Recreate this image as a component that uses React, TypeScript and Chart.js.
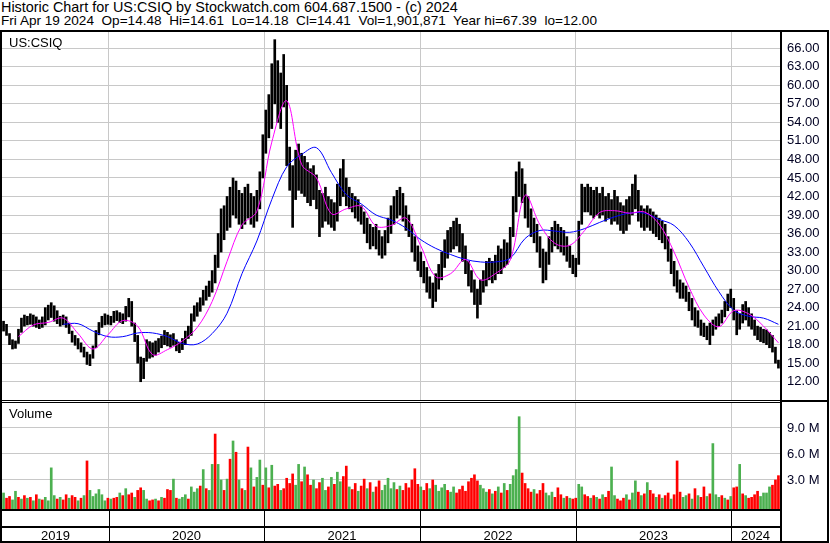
import React, { useEffect, useRef } from 'react';
import { Chart, registerables } from 'chart.js';
Chart.register(...registerables);

const titleLine1 = 'Historic Chart for US:CSIQ by Stockwatch.com 604.687.1500 - (c) 2024';
const titleLine2 = 'Fri Apr 19 2024  Op=14.48  Hi=14.61  Lo=14.18  Cl=14.41  Vol=1,901,871  Year hi=67.39  lo=12.00';
const symbolLabel = 'US:CSIQ';
const volumeLabel = 'Volume';

const yearLabels = ['2019', '2020', '2021', '2022', '2023', '2024'];
const yearStarts = [2020, 2021, 2022, 2023, 2024];
const priceTicks = [12, 15, 18, 21, 24, 27, 30, 33, 36, 39, 42, 45, 48, 51, 54, 57, 60, 63, 66];
const volumeTicks = [3, 6, 9];

// weekly bars, first one in late April 2019, last one on Apr 19 2024
const weeklyHigh = [
  21.8, 21.3, 19.8, 18.8, 18.6, 20.5, 22.3, 22.8, 22.6, 23.0,
  22.8, 22.5, 22.0, 22.5, 24.0, 24.4, 24.8, 24.3, 23.5, 22.6,
  22.8, 22.5, 21.5, 20.2, 19.5, 19.0, 18.3, 17.6, 16.8, 16.4,
  17.8, 20.3, 21.6, 22.6, 23.0, 22.8, 22.6, 23.4, 23.5, 23.2,
  23.0, 24.2, 25.5, 25.0, 21.5, 19.5, 16.0, 15.8, 18.8, 18.5,
  18.3, 18.6, 19.0, 19.4, 20.3, 20.0, 19.6, 19.8, 18.8, 18.4,
  19.0, 20.2, 21.0, 23.0, 24.3, 24.8, 25.6, 26.8, 27.5, 28.3,
  30.0, 32.5, 36.0, 40.0, 40.5, 42.0, 43.5, 45.0, 44.5, 43.0,
  42.5, 43.5, 44.0, 42.5, 42.0, 43.0, 46.0, 52.0, 56.0, 58.5,
  63.5, 67.4, 64.0, 62.0, 65.0, 60.0, 50.0, 47.0, 49.5, 50.5,
  49.0, 48.5, 47.5, 46.5, 47.0, 45.5, 43.0, 42.5, 43.5, 42.0,
  41.5, 41.0, 44.0, 46.5, 48.0, 45.0, 43.5, 42.5, 42.0, 41.5,
  40.5, 39.5, 38.5, 37.5, 37.0, 37.5, 36.5, 35.5, 36.5, 38.5,
  40.5, 42.0, 43.0, 43.5, 42.5, 40.5, 39.0, 37.5, 35.5, 34.0,
  33.0, 31.5, 30.5, 29.0, 28.0, 29.5, 31.0, 33.0, 35.0, 36.5,
  37.0, 38.0, 38.5, 37.5, 36.0, 34.0, 31.5, 30.0, 28.5, 27.0,
  28.5, 30.0, 31.5, 32.0, 31.5, 32.5, 34.0, 33.5, 35.0, 34.5,
  37.0, 42.0, 46.0, 47.6, 46.5, 44.0, 42.0, 40.0, 38.5, 37.5,
  35.5, 33.5, 33.0, 35.5, 37.0, 38.0, 37.5, 37.0, 36.5, 35.5,
  34.0, 32.5, 32.0, 38.0, 44.0, 43.5, 44.0, 43.5, 43.0, 43.5,
  42.5, 43.5, 42.0, 42.5, 41.5, 43.0, 42.0, 41.0, 40.5, 41.5,
  42.0, 44.0, 45.5, 43.0, 40.5, 40.0, 40.5, 40.0, 39.5, 39.0,
  38.5, 38.0, 37.5, 35.5, 33.5, 31.5, 30.0, 28.5, 28.0, 27.5,
  26.5, 25.5, 24.0, 23.5, 22.0, 21.5, 21.0, 21.5, 22.0, 22.5,
  23.0, 23.6, 25.0, 26.2, 27.0, 25.5, 23.5, 23.0, 24.5, 25.0,
  24.0, 23.0, 22.0, 21.0, 20.8, 20.5, 20.4, 20.0, 19.5, 17.6, 15.5,
];
const weeklyLow = [
  20.2, 19.5, 18.0, 17.3, 17.4, 18.2, 20.0, 21.0, 21.2, 21.3,
  21.0, 20.8, 20.6, 20.8, 21.2, 22.0, 22.4, 21.8, 21.4, 21.0,
  21.2, 20.8, 19.8, 18.4, 17.9, 17.3, 16.8, 16.0, 14.8, 14.6,
  15.8, 17.5, 19.6, 20.8, 21.2, 21.3, 21.2, 21.6, 21.9, 21.6,
  21.4, 21.8, 22.5, 21.0, 18.5, 15.0, 12.0, 12.5, 15.3, 15.8,
  16.0, 16.3, 16.8, 17.5, 18.0, 17.8, 17.6, 17.9, 17.0, 16.7,
  17.2, 18.0, 19.0, 19.5, 21.8, 22.6, 23.4, 24.4, 25.2, 25.8,
  26.5, 28.0, 30.5, 33.0, 35.0, 36.5, 37.0, 39.0, 38.5, 37.5,
  36.8, 37.5, 38.5, 37.5, 37.0, 38.0, 40.0, 45.0, 49.0, 51.5,
  53.0, 57.0, 54.0, 53.0, 56.5, 47.0, 43.0, 37.0, 41.5, 43.0,
  42.5, 42.0, 41.0, 40.5, 41.5, 40.0, 35.5, 37.0, 38.0, 37.5,
  37.0, 36.5, 38.0, 40.5, 42.0, 40.5, 40.0, 39.5, 38.5, 38.0,
  37.5, 36.0, 34.5, 33.5, 34.0, 33.5, 32.5, 32.0, 32.5, 34.5,
  36.0, 37.5, 38.5, 39.0, 38.0, 36.5, 35.5, 33.0, 31.5, 30.0,
  29.0, 28.0, 26.5, 25.5, 24.0, 25.0, 27.0, 28.5, 30.5, 32.0,
  33.0, 33.5, 34.0, 33.0, 31.5, 29.5, 27.5, 26.5, 24.5, 22.3,
  24.5, 26.5, 27.5, 28.5, 28.0, 28.5, 29.5, 29.5, 30.5, 31.0,
  32.0, 35.5, 39.5, 42.0, 41.0, 38.5, 37.0, 35.5, 34.5, 33.0,
  30.5, 28.0, 28.5, 31.0, 33.0, 34.0, 33.5, 33.0, 32.5, 31.5,
  30.5, 29.5, 29.0, 31.0, 37.5, 39.5, 39.5, 39.0, 38.5, 39.0,
  38.5, 39.0, 38.0, 38.5, 37.5, 38.0, 37.5, 36.5, 36.0, 36.5,
  37.5, 39.0, 40.0, 38.0, 37.0, 36.5, 37.0, 36.5, 36.0, 35.5,
  35.0, 34.5, 33.5, 31.5, 29.5, 27.5, 26.5, 25.5, 25.5, 25.0,
  23.5, 22.0, 21.0, 20.8, 19.5, 19.3, 18.8, 18.0, 19.5, 20.5,
  21.0, 21.5, 22.5, 23.5, 24.0, 22.0, 19.6, 20.5, 21.5, 22.0,
  21.0, 20.5, 19.5, 18.8, 18.5, 18.3, 18.0, 17.5, 16.8, 15.0, 14.2,
];

// moving averages sampled every 5 weeks (weeks 5, 10, ..., 260)
const maShort = [
  19.3, 21.2, 21.6, 22.3, 19.8, 17.3, 19.6, 21.9, 21.0, 16.4,
  17.2, 18.6, 20.8, 25.0, 31.5, 37.4, 39.6, 50.8, 57.5, 47.2,
  45.0, 39.2, 40.0, 40.4, 37.2, 37.3, 38.5, 34.0, 29.0, 29.5,
  31.8, 28.5, 29.5, 31.7, 42.2, 37.4, 34.4, 34.1, 36.5, 39.4,
  39.7, 39.3, 39.5, 37.5, 33.0, 27.3, 22.8, 20.9, 23.5, 23.0,
  21.0, 18.3,
];
const maLong = [
  null, null, null, 21.3, 21.4, 20.2, 19.3, 19.3, 19.9, 19.9,
  19.3, 18.2, 18.1, 19.8, 23.1, 29.5, 34.8, 41.5, 46.8, 48.8,
  49.9, 45.9, 42.3, 40.8, 39.0, 38.2, 36.9, 35.0, 33.6, 32.6,
  31.8, 31.4, 31.4, 32.0, 35.2, 36.5, 36.4, 36.2, 36.8, 37.8,
  38.7, 39.3, 39.3, 38.3, 37.3, 34.6, 30.6, 26.6, 23.6, 22.6,
  22.3, 21.3,
];

// weekly volume, millions of shares
const weeklyVolume = [
  1.5, 0.9, 1.1, 0.7, 1.7, 1.0, 0.8, 1.2, 0.9, 1.0,
  0.6, 1.3, 0.8, 0.7, 1.0, 0.6, 4.4, 1.2, 0.8, 1.0,
  0.7, 1.3, 0.9, 1.2, 1.0, 0.6, 0.9, 1.2, 5.2, 1.8,
  1.1, 1.4, 1.9, 1.3, 0.6, 0.9, 0.8, 0.9, 1.0, 1.5,
  1.2, 2.0, 1.3, 1.5, 1.0, 1.8, 2.1, 1.8, 0.8, 0.6,
  0.7, 0.8, 0.6, 1.0, 0.9, 1.9, 1.8, 3.1, 0.9, 0.8,
  1.0, 1.3, 0.8, 2.2, 1.6, 2.0, 2.3, 4.2, 2.0, 1.8,
  4.8, 8.3, 4.8, 3.0, 1.8, 3.1, 5.4, 7.5, 6.2, 3.0,
  2.0, 1.8, 6.8, 4.4, 2.2, 3.3, 5.3, 2.4, 4.4, 2.1,
  4.7, 2.3, 2.5, 1.8, 2.0, 3.2, 2.6, 3.7, 2.4, 4.8,
  2.8, 4.5, 3.6, 2.4, 3.0, 2.0, 2.7, 3.2, 1.8, 2.2,
  3.3, 2.5, 3.9, 2.8, 3.4, 4.6, 2.2, 1.9, 2.6, 1.7,
  2.3, 3.1, 2.0, 2.7, 1.6, 2.2, 2.9, 1.8, 2.4, 3.2,
  2.0, 2.7, 1.9, 2.3, 1.8, 2.6, 2.1, 3.0, 4.3, 2.5,
  2.2, 1.8, 2.6, 2.0, 3.0, 2.4, 1.7, 2.1, 2.5, 1.8,
  1.6, 2.2, 1.5, 1.9, 2.3, 1.7, 2.8, 3.2, 3.6, 2.9,
  2.4, 2.0, 1.6, 1.9, 1.4, 1.7, 2.2, 1.5, 2.6, 1.8,
  2.5, 3.5, 4.2, 10.3, 3.8, 2.6, 2.0, 1.6, 1.9, 1.4,
  1.8, 2.6, 1.5, 1.2, 1.6, 1.0, 2.1, 1.3, 0.9, 1.1,
  0.9, 0.8, 0.9, 2.5, 2.2, 1.3, 1.1, 0.9, 1.2, 1.0,
  0.8, 1.3, 1.0, 1.7, 4.5, 1.2, 0.8, 0.6, 0.9, 1.3,
  0.7, 1.5, 2.9, 1.6, 1.2, 1.4, 2.7, 1.8, 1.4, 1.0,
  1.3, 0.9, 1.2, 1.5, 0.8, 1.3, 5.2, 1.6, 1.0, 1.2,
  1.4, 0.8, 2.0, 1.2, 1.0, 2.2, 1.1, 1.4, 7.2, 1.3,
  1.0, 1.2, 0.9, 0.7, 1.1, 2.1, 2.2, 4.8, 1.4, 1.2,
  0.9, 1.0, 1.3, 1.7, 1.1, 1.5, 1.5, 2.2, 2.4, 3.0, 3.5,
];
// g = up week (green), r = down week (red)
const weeklyDirection = (
  'grrggrgrgr' + 'grgrggggrg' + 'rrgrrgrgrg' + 'gggggrgrrg' + 'rgrrgrrggr' +
  'rgrgrrrgrg' + 'ggrgggrgrg' + 'grggrgrgrg' + 'rgrgrggrgr' + 'grrgrrrrgg' +
  'rgrrgrrggr' + 'grggrrgrrg' + 'rrgrgrrggg' + 'ggrgrrrrrr' + 'grrgrggggr' +
  'ggrrrrrrrr' + 'gggrgrgrgr' + 'ggggrrrrgr' + 'rrgggrrrgr' + 'grrggrrgrg' +
  'rgrrggrrrg' + 'rggrgrgrrg' + 'rgrrgrrrgg' + 'rgrgrrgrgg' + 'grgrgrrgrg' +
  'rrrrggggrrr'
).split('');

const FIRST_WEEK = 2019.322;
const WEEK_YEARS = 7 / 365.25;
const X_MIN = 2019.312;
const X_MAX = 2024.315;
const P_MIN = 9.04;
const P_MAX = 68.64;
const V_MIN = -0.346;
const V_MAX = 11.88;
const FONT = '"Liberation Sans", Arial, sans-serif';
const GRID = '#c8c8c8';
const GREEN = '#4cb050';
const RED = '#ff0000';

const weekX = (i: number) => FIRST_WEEK + i * WEEK_YEARS;

const xScale = () => ({
  type: 'linear' as const,
  min: X_MIN,
  max: X_MAX,
  offset: false,
  afterBuildTicks: (s: any) => { s.ticks = yearStarts.map((v) => ({ value: v })); },
  afterFit: (s: any) => { s.height = 0; s.paddingLeft = 0; s.paddingRight = 0; },
  ticks: { display: false },
  grid: { color: GRID, drawTicks: false, offset: false },
  border: { display: false },
});

export default function App() {
  const priceRef = useRef<HTMLCanvasElement>(null);
  const volRef = useRef<HTMLCanvasElement>(null);

  useEffect(() => {
    Chart.defaults.font.family = FONT;
    const priceChart = new Chart(priceRef.current!, {
      type: 'bar',
      data: {
        datasets: [
          {
            type: 'line',
            data: maShort.map((v, k) => ({ x: weekX(5 + 5 * k), y: v })),
            borderColor: '#ff00ff',
            borderWidth: 1,
            pointRadius: 0,
            tension: 0.35,
            order: 1,
          } as any,
          {
            type: 'line',
            data: maLong.map((v, k) => ({ x: weekX(5 + 5 * k), y: v })),
            borderColor: '#0000ff',
            borderWidth: 1,
            pointRadius: 0,
            tension: 0.35,
            order: 1,
          } as any,
          {
            type: 'bar',
            data: weeklyHigh.map((h, i) => ({ x: weekX(i), y: [weeklyLow[i], h] })),
            backgroundColor: '#000000',
            barThickness: 2,
            order: 2,
          } as any,
        ],
      },
      options: {
        responsive: false,
        maintainAspectRatio: false,
        animation: false,
        events: [],
        layout: { padding: { left: 2, right: 0, top: 3, bottom: 3 } },
        plugins: { legend: { display: false }, tooltip: { enabled: false } },
        scales: {
          x: xScale(),
          y: {
            type: 'linear',
            position: 'right',
            min: P_MIN,
            max: P_MAX,
            beginAtZero: false,
            afterBuildTicks: (s: any) => { s.ticks = priceTicks.map((v) => ({ value: v })); },
            afterFit: (s: any) => { s.width = 50; s.paddingTop = 0; s.paddingBottom = 0; },
            ticks: {
              autoSkip: false,
              padding: 7,
              color: '#000022',
              font: { size: 13, family: FONT },
              callback: (v: any) => Number(v).toFixed(2),
            },
            grid: { color: GRID, drawTicks: false },
            border: { display: false },
          },
        },
      } as any,
      plugins: [
        {
          id: 'priceFrame',
          afterDraw(chart: any) {
            const ctx = chart.ctx;
            ctx.save();
            ctx.fillStyle = '#000';
            ctx.fillRect(0, 1, 829, 2);
            ctx.fillRect(0, 1, 2, 373);
            ctx.fillRect(780, 1, 2, 373);
            ctx.fillRect(827, 1, 2, 373);
            ctx.fillRect(0, 371, 782, 1);
            ctx.fillRect(0, 373, 782, 1);
            ctx.fillRect(782, 371, 46, 2);
            ctx.font = '13px ' + FONT;
            ctx.textBaseline = 'alphabetic';
            ctx.textAlign = 'left';
            ctx.fillText(symbolLabel, 9, 18);
            ctx.restore();
          },
        },
      ],
    });

    const volChart = new Chart(volRef.current!, {
      type: 'bar',
      data: {
        datasets: [
          {
            data: weeklyVolume.map((v, i) => ({ x: weekX(i), y: v })),
            backgroundColor: weeklyDirection.map((d) => (d === 'g' ? GREEN : RED)),
            barThickness: 2,
            base: V_MIN,
          } as any,
        ],
      },
      options: {
        responsive: false,
        maintainAspectRatio: false,
        animation: false,
        events: [],
        layout: { padding: { left: 2, right: 0, top: 0, bottom: 34 } },
        plugins: { legend: { display: false }, tooltip: { enabled: false } },
        scales: {
          x: xScale(),
          y: {
            type: 'linear',
            position: 'right',
            min: V_MIN,
            max: V_MAX,
            beginAtZero: false,
            afterBuildTicks: (s: any) => { s.ticks = volumeTicks.map((v) => ({ value: v })); },
            afterFit: (s: any) => { s.width = 50; s.paddingTop = 0; s.paddingBottom = 0; },
            ticks: {
              autoSkip: false,
              padding: 7,
              color: '#000022',
              font: { size: 13, family: FONT },
              callback: (v: any) => Number(v).toFixed(1) + ' M',
            },
            grid: { color: GRID, drawTicks: false },
            border: { display: false },
          },
        },
      } as any,
      plugins: [
        {
          id: 'volFrame',
          afterDraw(chart: any) {
            const ctx = chart.ctx;
            const xs = chart.scales.x;
            const area = chart.chartArea;
            ctx.save();
            ctx.fillStyle = '#000';
            ctx.fillRect(0, 0, 2, 140);
            ctx.fillRect(780, 0, 2, 140);
            ctx.fillRect(827, 0, 2, 140);
            ctx.fillRect(0, 106, 782, 2);
            ctx.fillRect(0, 123, 782, 2);
            ctx.fillRect(0, 138, 829, 2);
            const bounds = [area.left, ...yearStarts.map((y) => Math.round(xs.getPixelForValue(y))), area.right];
            yearStarts.forEach((y) => {
              ctx.fillRect(Math.round(xs.getPixelForValue(y)), 108, 1, 30);
            });
            ctx.font = '13px ' + FONT;
            ctx.textBaseline = 'alphabetic';
            ctx.textAlign = 'center';
            yearLabels.forEach((lab, k) => {
              ctx.fillText(lab, (bounds[k] + bounds[k + 1]) / 2, 137);
            });
            ctx.textAlign = 'left';
            ctx.fillText(volumeLabel, 9, 15);
            ctx.restore();
          },
        },
      ],
    });

    return () => {
      priceChart.destroy();
      volChart.destroy();
    };
  }, []);

  const textStyle: React.CSSProperties = {
    position: 'absolute',
    left: 1,
    fontFamily: FONT,
    lineHeight: '14px',
    whiteSpace: 'pre',
    color: '#000',
  };

  return (
    <div style={{ position: 'fixed', left: 0, top: 0, width: 830, height: 543, background: '#fff', overflow: 'hidden' }}>
      <div style={{ ...textStyle, top: 0, fontSize: '14.4px' }}>{titleLine1}</div>
      <div style={{ ...textStyle, top: 14, fontSize: '13.6px' }}>{titleLine2}</div>
      <canvas ref={priceRef} width={830} height={374} style={{ position: 'absolute', left: 0, top: 29, width: 830, height: 374 }} />
      <canvas ref={volRef} width={830} height={140} style={{ position: 'absolute', left: 0, top: 403, width: 830, height: 140 }} />
    </div>
  );
}
